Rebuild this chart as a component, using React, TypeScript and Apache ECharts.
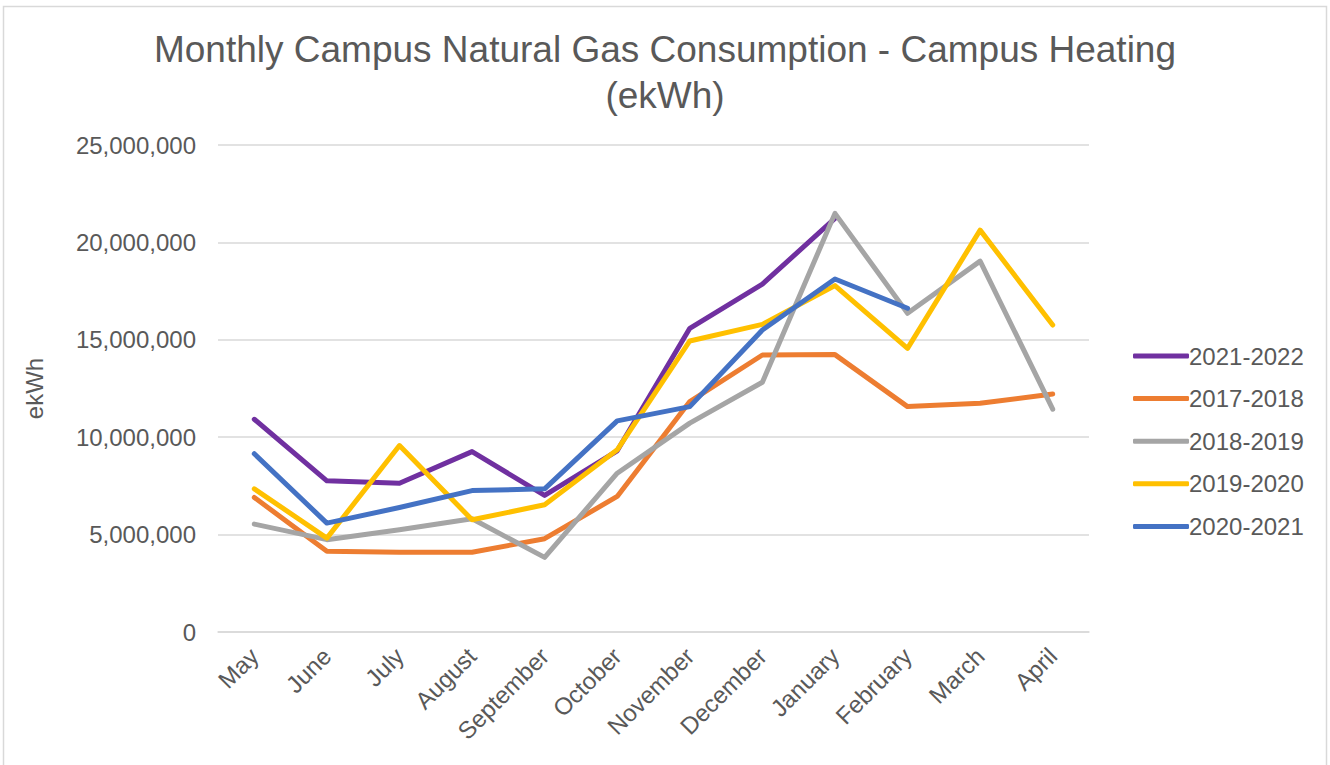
import React, { useEffect, useRef } from "react";
import * as echarts from "echarts";

const months = ["May", "June", "July", "August", "September", "October", "November", "December", "January", "February", "March", "April"];
const seriesNames = ["2021-2022", "2017-2018", "2018-2019", "2019-2020", "2020-2021"];
const s2021_2022 = [10.92, 7.76, 7.64, 9.26, 7.01, 9.3, 15.59, 17.86, 21.23, null, null, null];
const s2017_2018 = [6.91, 4.14, 4.09, 4.09, 4.79, 6.96, 11.83, 14.22, 14.24, 11.57, 11.74, 12.22];
const s2018_2019 = [5.54, 4.74, 5.25, 5.81, 3.83, 8.15, 10.72, 12.82, 21.49, 16.36, 19.04, 11.44];
const s2019_2020 = [7.35, 4.82, 9.57, 5.76, 6.53, 9.35, 14.94, 15.79, 17.78, 14.56, 20.63, 15.76];
const s2020_2021 = [9.15, 5.59, 6.39, 7.26, 7.35, 10.84, 11.57, 15.5, 18.12, 16.62, null, null];
const colors = ["#7030A0", "#ED7D31", "#A5A5A5", "#FFC000", "#4472C4"];

const toKwh = (arr: (number | null)[]) => arr.map((v) => (v == null ? null : Math.round(v * 1000000)));

export default function App() {
  const ref = useRef<HTMLDivElement>(null);
  useEffect(() => {
    document.body.style.margin = "0";
    const chart = echarts.init(ref.current!, null, { renderer: "svg" });
    const font = "'Liberation Sans', Arial, sans-serif";
    const textColor = "#595959";
    const allData = [s2021_2022, s2017_2018, s2018_2019, s2019_2020, s2020_2021];
    chart.setOption({
      animation: false,
      backgroundColor: "#ffffff",
      textStyle: { fontFamily: font },
      title: {
        text: "Monthly Campus Natural Gas Consumption - Campus Heating\n(ekWh)",
        left: "center",
        top: 21,
        textStyle: { fontFamily: font, fontSize: 37, fontWeight: "normal", color: textColor, lineHeight: 46 },
      },
      graphic: [
        {
          type: "rect",
          shape: { x: 3.5, y: 6.5, width: 1323, height: 780 },
          style: { fill: "none", stroke: "#d9d9d9", lineWidth: 1.5 },
          silent: true,
        },
      ],
      legend: {
        orient: "vertical",
        left: 1128,
        top: 339,
        icon: "roundRect",
        itemWidth: 56,
        itemHeight: 5,
        itemGap: 18.6,
        data: seriesNames,
        textStyle: { fontFamily: font, fontSize: 24, color: textColor, padding: [0, 0, 0, -5], lineHeight: 24 },
      },
      grid: { left: 218, right: 241, top: 145, bottom: 133, containLabel: false },
      xAxis: {
        type: "category",
        data: months,
        boundaryGap: true,
        axisLine: { show: true, lineStyle: { color: "#d9d9d9", width: 1.5 } },
        axisTick: { show: false },
        axisLabel: { rotate: 45, fontFamily: font, fontSize: 24, color: textColor, margin: 20, interval: 0 },
      },
      yAxis: {
        type: "value",
        min: 0,
        max: 25000000,
        interval: 5000000,
        name: "ekWh",
        nameLocation: "middle",
        nameGap: 172,
        nameRotate: 90,
        nameTextStyle: { fontFamily: font, fontSize: 24, color: textColor },
        axisLine: { show: false },
        axisTick: { show: false },
        splitLine: { lineStyle: { color: "#d9d9d9", width: 1.5 } },
        axisLabel: {
          fontFamily: font,
          fontSize: 24,
          color: textColor,
          margin: 22,
          formatter: (v: number) => v.toLocaleString("en-US"),
        },
      },
      series: seriesNames.map((name, i) => ({
        name,
        type: "line",
        data: toKwh(allData[i]),
        symbol: "none",
        connectNulls: false,
        itemStyle: { color: colors[i] },
        lineStyle: { color: colors[i], width: 5, cap: "round", join: "round" },
      })),
    });
    return () => chart.dispose();
  }, []);
  return <div ref={ref} style={{ width: 1330, height: 765 }} />;
}
